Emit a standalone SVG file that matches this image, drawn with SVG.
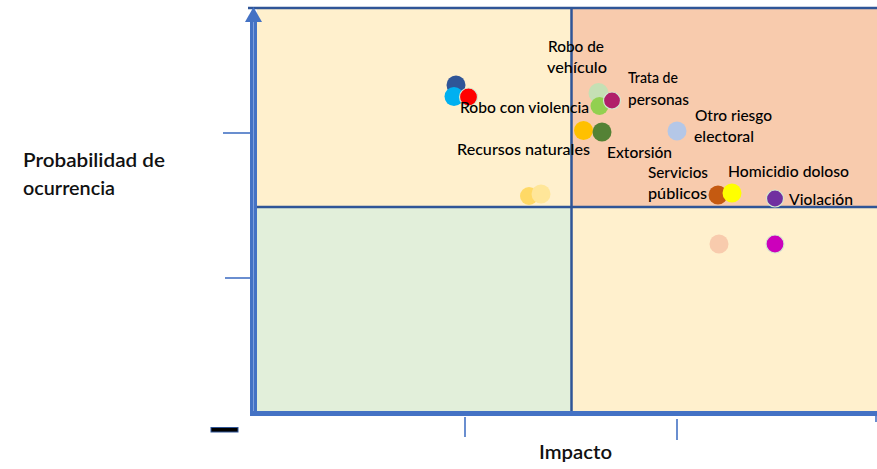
<svg xmlns="http://www.w3.org/2000/svg" width="877" height="469" viewBox="0 0 877 469">
<style>
.lbl{font-family:Lato,"Liberation Sans",sans-serif;font-size:15.5px;fill:#000;font-weight:500;}
.ax{font-family:Lato,"Liberation Sans",sans-serif;font-size:19px;fill:#111;font-weight:600;}
.div{stroke:#2F5597;stroke-width:2.5;fill:none;}
.tick{stroke:#4472C4;stroke-width:1.6;fill:none;}
.ring{stroke:#D3E8CF;stroke-width:1.2;}
</style>
<rect width="877" height="469" fill="#ffffff"/>
<g id="quadrants">
<rect id="q-tl" x="257" y="8" width="314.5" height="199" fill="#FFF0CD"/>
<rect id="q-tr" x="571.5" y="8" width="305.5" height="199" fill="#F8CBAD"/>
<rect id="q-bl" x="257" y="207" width="314.5" height="205" fill="#E2EFDA"/>
<rect id="q-br" x="571.5" y="207" width="305.5" height="205" fill="#FFF0CD"/>
</g>
<g id="connectors">
<line class="div" x1="248" y1="8" x2="877" y2="8"/>
<line class="div" x1="257" y1="207" x2="877" y2="207"/>
<line class="div" x1="571.5" y1="8" x2="571.5" y2="412"/>
<rect x="250" y="20" width="7" height="396" fill="#4472C4"/>
<line x1="253.5" y1="20" x2="253.5" y2="412" stroke="#7FA0DC" stroke-width="1"/>
<polygon points="245,22 253.5,7 262,22" fill="#4472C4"/>
<rect x="250" y="411" width="627" height="5" fill="#4472C4"/>
<line class="tick" x1="223" y1="133" x2="251" y2="133"/>
<line class="tick" x1="225" y1="278" x2="251" y2="278"/>
<line class="tick" x1="465" y1="417" x2="465" y2="437"/>
<line class="tick" x1="677" y1="419" x2="677" y2="440"/>
<line class="tick" x1="876" y1="416" x2="876" y2="422"/>
<rect x="211" y="427.5" width="27" height="4.5" fill="#000" stroke="#2F5597" stroke-width="1"/>
</g>
<g id="axis-labels">
<text class="ax" x="23" y="167" textLength="142" lengthAdjust="spacingAndGlyphs">Probabilidad de</text>
<text class="ax" x="23" y="195" textLength="92" lengthAdjust="spacingAndGlyphs">ocurrencia</text>
<text class="ax" x="539" y="459" textLength="73" lengthAdjust="spacingAndGlyphs">Impacto</text>
</g>
<g id="n-robo-violencia">
<circle cx="456" cy="85" r="9.5" fill="#2F5597"/>
<circle cx="454" cy="96.5" r="9.5" fill="#00B0F0"/>
<circle class="ring" cx="468.5" cy="97" r="9" fill="#FF0000"/>
<text class="lbl" x="460" y="113" textLength="129" lengthAdjust="spacingAndGlyphs">Robo con violencia</text>
</g>
<g id="n-robo-vehiculo">
<circle cx="598.5" cy="93" r="10" fill="#C5E0B4"/>
<circle cx="599.5" cy="106" r="9" fill="#92D050"/>
<text class="lbl" x="548" y="52" textLength="56" lengthAdjust="spacingAndGlyphs">Robo de</text>
<text class="lbl" x="547" y="73" textLength="60" lengthAdjust="spacingAndGlyphs">vehículo</text>
</g>
<g id="n-trata">
<circle class="ring" cx="612" cy="100.5" r="8.5" fill="#B0206A"/>
<text class="lbl" x="628" y="83" textLength="50" lengthAdjust="spacingAndGlyphs">Trata de</text>
<text class="lbl" x="628" y="105" textLength="61" lengthAdjust="spacingAndGlyphs">personas</text>
</g>
<g id="n-recursos">
<circle cx="583.5" cy="130.5" r="9.5" fill="#FFC000"/>
<circle cx="529" cy="196" r="9" fill="#FFD966"/>
<circle cx="541" cy="194" r="9.5" fill="#FFE699"/>
<text class="lbl" x="457" y="155" textLength="133" lengthAdjust="spacingAndGlyphs">Recursos naturales</text>
</g>
<g id="n-extorsion">
<circle cx="602" cy="132" r="9.5" fill="#548235"/>
<text class="lbl" x="607" y="158" textLength="65" lengthAdjust="spacingAndGlyphs">Extorsión</text>
</g>
<g id="n-otro-riesgo">
<circle cx="677" cy="131" r="9.5" fill="#B4C7E7"/>
<text class="lbl" x="695" y="121" textLength="77" lengthAdjust="spacingAndGlyphs">Otro riesgo</text>
<text class="lbl" x="694" y="142" textLength="60" lengthAdjust="spacingAndGlyphs">electoral</text>
</g>
<g id="n-servicios">
<circle cx="718" cy="195" r="9.5" fill="#C55A11"/>
<circle cx="719" cy="244" r="9.5" fill="#F8CBAD"/>
<text class="lbl" x="648" y="178" textLength="60" lengthAdjust="spacingAndGlyphs">Servicios</text>
<text class="lbl" x="648" y="199" textLength="59" lengthAdjust="spacingAndGlyphs">públicos</text>
</g>
<g id="n-homicidio">
<circle cx="732" cy="193" r="9.5" fill="#FFFF00"/>
<text class="lbl" x="728" y="177" textLength="121" lengthAdjust="spacingAndGlyphs">Homicidio doloso</text>
</g>
<g id="n-violacion">
<circle class="ring" cx="775" cy="198.5" r="8.5" fill="#7030A0"/>
<circle class="ring" cx="775" cy="244" r="9" fill="#CC00BB"/>
<text class="lbl" x="789" y="205" textLength="64" lengthAdjust="spacingAndGlyphs">Violación</text>
</g>
</svg>
